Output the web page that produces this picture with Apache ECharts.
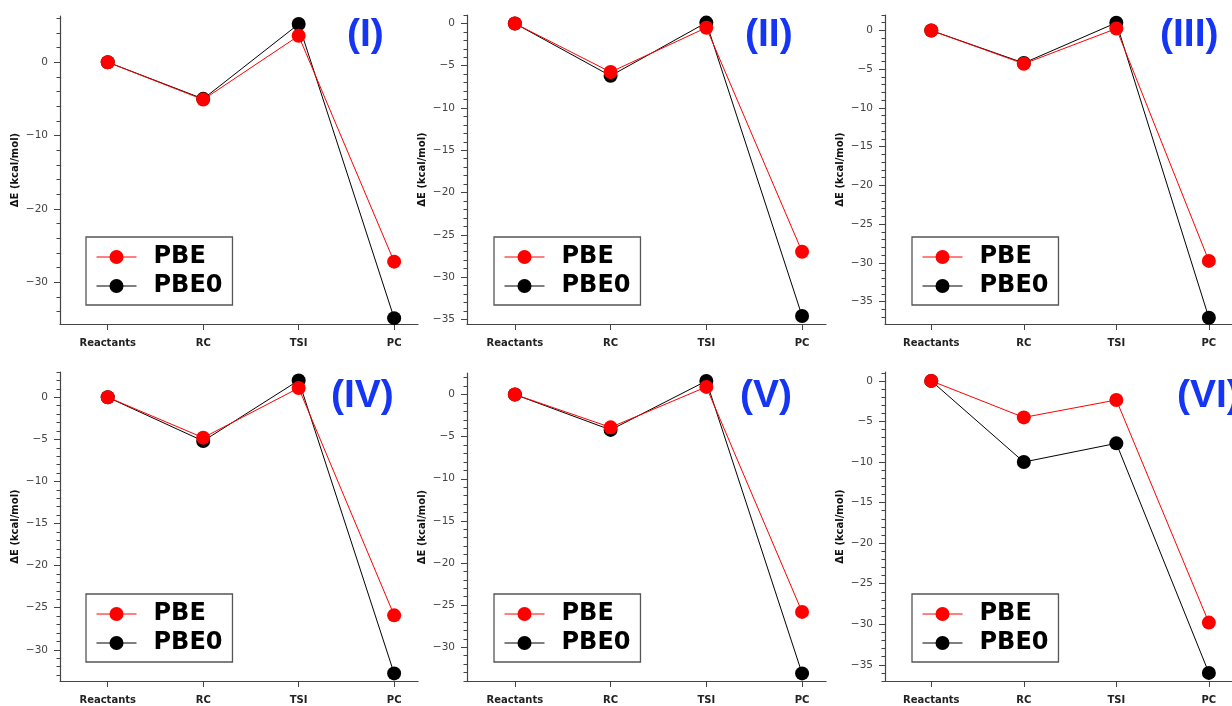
<!DOCTYPE html>
<html>
<head>
<meta charset="utf-8">
<script src="https://cdn.jsdelivr.net/npm/echarts@6/dist/echarts.min.js"></script>
<style>
html,body{margin:0;padding:0;background:#fff;}
#chart{width:1232px;height:706px;}
</style>
</head>
<body>
<div id="chart"></div>
<script>
// ---- data ----
const categories = ['Reactants', 'RC', 'TSI', 'PC'];
const panelNames = ['(I)', '(II)', '(III)', '(IV)', '(V)', '(VI)'];

const pbe_I   = [0, -5.1, 3.6, -27.2];
const pbe0_I  = [0, -5.0, 5.2, -34.9];
const pbe_II  = [0, -5.75, -0.5, -27.0];
const pbe0_II = [0, -6.2, 0.1, -34.6];
const pbe_III = [0, -4.3, 0.25, -29.75];
const pbe0_III= [0, -4.2, 1.0, -37.1];
const pbe_IV  = [0, -4.8, 1.1, -25.9];
const pbe0_IV = [0, -5.2, 2.0, -32.8];
const pbe_V   = [0, -3.9, 0.9, -25.8];
const pbe0_V  = [0, -4.2, 1.6, -33.1];
const pbe_VI  = [0, -4.5, -2.35, -29.8];
const pbe0_VI = [0, -10.0, -7.7, -36.0];

const yTicks_I   = [0, -10, -20, -30];
const yTicks_II  = [0, -5, -10, -15, -20, -25, -30, -35];
const yTicks_III = [0, -5, -10, -15, -20, -25, -30, -35];
const yTicks_IV  = [0, -5, -10, -15, -20, -25, -30];
const yTicks_V   = [0, -5, -10, -15, -20, -25, -30];
const yTicks_VI  = [0, -5, -10, -15, -20, -25, -30, -35];

const yRange_I   = [-35.7, 6.3];
const yRange_II  = [-35.55, 1.0];
const yRange_III = [-37.9, 2.0];
const yRange_IV  = [-33.7, 3.0];
const yRange_V   = [-34.0, 2.55];
const yRange_VI  = [-37.0, 1.1];

const minorStep = [2, 1, 1, 1, 1, 1];

// ---- layout ----
const panels = [
  {pbe: pbe_I,   pbe0: pbe0_I,   ticks: yTicks_I,   range: yRange_I},
  {pbe: pbe_II,  pbe0: pbe0_II,  ticks: yTicks_II,  range: yRange_II},
  {pbe: pbe_III, pbe0: pbe0_III, ticks: yTicks_III, range: yRange_III},
  {pbe: pbe_IV,  pbe0: pbe0_IV,  ticks: yTicks_IV,  range: yRange_IV},
  {pbe: pbe_V,   pbe0: pbe0_V,   ticks: yTicks_V,   range: yRange_V},
  {pbe: pbe_VI,  pbe0: pbe0_VI,  ticks: yTicks_VI,  range: yRange_VI}
];
const grids = [
  {left: 60,  top: 16,  width: 358, height: 308},
  {left: 467, top: 15,  width: 359, height: 309},
  {left: 885, top: 15,  width: 358, height: 309},
  {left: 60,  top: 372, width: 358, height: 309},
  {left: 467, top: 373, width: 359, height: 308},
  {left: 885, top: 372, width: 358, height: 309}
];
const legendPos = [[86, 237], [494, 237], [912, 237], [86, 594], [494, 594], [912, 594]];
const labelPos = [[347, 35], [745, 35], [1160, 35], [331, 396], [740, 396], [1177, 396]];

const axisColor = '#444';
const fmtY = v => (v < 0 ? '\u2212' + Math.abs(v) : String(v));

function minorValues(range, step) {
  const out = [];
  const start = Math.ceil(range[0] / step) * step;
  for (let v = start; v <= range[1] + 1e-9; v += step) out.push(+v.toFixed(6));
  return out;
}

const xAxes = [], yAxes = [], series = [], legends = [], graphics = [];
panels.forEach((p, i) => {
  xAxes.push({
    type: 'value', gridIndex: i, position: 'bottom', min: -0.5, max: 3.25,
    axisLine: {show: true, onZero: false, lineStyle: {color: axisColor, width: 1.2}},
    axisTick: {show: true, length: 6, inside: false, customValues: [0, 1, 2, 3], lineStyle: {color: axisColor, width: 1}},
    axisLabel: {
      show: true, customValues: [0, 1, 2, 3], margin: 14,
      formatter: v => categories[Math.round(v)] || '',
      fontFamily: 'DejaVu Sans', fontWeight: 'bold', fontSize: 10, color: '#222'
    },
    splitLine: {show: false}
  });
  // major ticks + labels
  yAxes.push({
    type: 'value', gridIndex: i, position: 'left', min: p.range[0], max: p.range[1],
    name: '\u0394E (kcal/mol)', nameLocation: 'middle', nameGap: 40, nameRotate: 90,
    nameTextStyle: {fontFamily: 'DejaVu Sans', fontWeight: 'bold', fontSize: 10, color: '#111'},
    axisLine: {show: true, onZero: false, lineStyle: {color: axisColor, width: 1.2}},
    axisTick: {show: true, length: 6, customValues: p.ticks, lineStyle: {color: axisColor, width: 1}},
    axisLabel: {show: true, customValues: p.ticks, formatter: fmtY, margin: 12,
      fontFamily: 'DejaVu Sans', fontSize: 10.5, color: '#444'},
    splitLine: {show: false}
  });
  // minor ticks
  yAxes.push({
    type: 'value', gridIndex: i, position: 'left', min: p.range[0], max: p.range[1],
    axisLine: {show: false, onZero: false},
    axisTick: {show: true, length: 3.5, customValues: minorValues(p.range, minorStep[i]), lineStyle: {color: axisColor, width: 1}},
    axisLabel: {show: false},
    splitLine: {show: false}
  });
  series.push({
    name: 'PBE0', type: 'line', xAxisIndex: i, yAxisIndex: 2 * i,
    data: p.pbe0.map((v, k) => [k, v]),
    symbol: 'circle', symbolSize: 14, clip: false,
    lineStyle: {color: '#000', width: 1}, itemStyle: {color: '#000'},
    emphasis: {disabled: true}, animation: false, z: 2
  });
  series.push({
    name: 'PBE', type: 'line', xAxisIndex: i, yAxisIndex: 2 * i,
    data: p.pbe.map((v, k) => [k, v]),
    symbol: 'circle', symbolSize: 14, clip: false,
    lineStyle: {color: '#ff0000', width: 1}, itemStyle: {color: '#ff0000'},
    emphasis: {disabled: true}, animation: false, z: 3
  });
  legends.push({
    data: ['PBE', 'PBE0'], orient: 'vertical',
    left: legendPos[i][0], top: legendPos[i][1],
    padding: [8, 10, 7, 10], itemGap: 5,
    itemWidth: 40, itemHeight: 17.5,
    borderColor: '#555', borderWidth: 1.3, borderRadius: 0,
    selectedMode: false,
    lineStyle: {width: 1},
    textStyle: {fontFamily: 'DejaVu Sans', fontWeight: 'bold', fontSize: 24, color: '#000', padding: [0, 0, 0, 12]}
  });
  graphics.push({
    type: 'text', x: labelPos[i][0], y: labelPos[i][1],
    style: {text: panelNames[i], fill: '#1535f5', font: 'bold 39px "Liberation Sans"', textAlign: 'left', textVerticalAlign: 'middle'},
    z: 10
  });
});

const chart = echarts.init(document.getElementById('chart'), null, {renderer: 'canvas'});
chart.setOption({
  animation: false,
  backgroundColor: '#ffffff',
  grid: grids,
  xAxis: xAxes,
  yAxis: yAxes,
  legend: legends,
  series: series,
  graphic: graphics
});
</script>
</body>
</html>
